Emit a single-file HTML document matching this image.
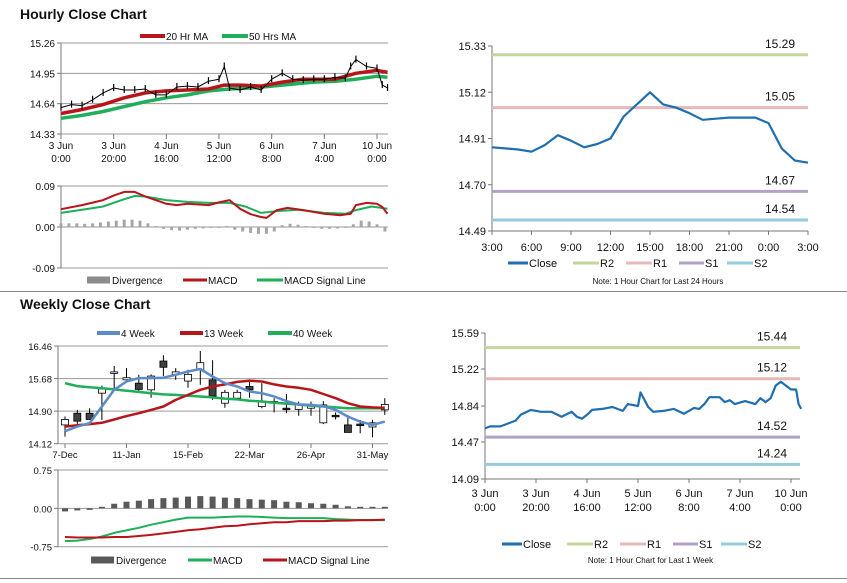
<!DOCTYPE html>
<html><head><meta charset="utf-8"><style>
html,body{margin:0;padding:0;background:#fff;}
svg{display:block;font-family:"Liberation Sans",Arial,sans-serif;}
</style></head><body>
<svg id="c" width="847" height="583" viewBox="0 0 847 583" xmlns="http://www.w3.org/2000/svg">
<text x="20" y="19" font-size="14" font-weight="bold" fill="#111">Hourly Close Chart</text>
<text x="20" y="309" font-size="14" font-weight="bold" fill="#111">Weekly Close Chart</text>
<line x1="0" y1="291.5" x2="847" y2="291.5" stroke="#888" stroke-width="1"/>
<line x1="0" y1="578.5" x2="847" y2="578.5" stroke="#888" stroke-width="1"/>
</svg>
<script>
// ---------- Hourly close (left top) ----------
const hHours=[0,4,8,12,16,20,24,28,32,36,40,44,48,52,56,60,62,64,68,72,76,80,84,88,92,96,100,104,108,110,112,116,120,122,124];
const hClose=[14.60,14.63,14.62,14.68,14.75,14.80,14.78,14.78,14.79,14.73,14.73,14.81,14.82,14.81,14.87,14.89,15.02,14.80,14.78,14.81,14.78,14.89,14.95,14.89,14.88,14.89,14.89,14.91,14.90,15.02,15.09,15.02,15.00,14.83,14.80];
const ma20Hours=[0,8,16,24,32,40,48,56,62,68,76,84,92,100,104,112,120,124];
const ma20Vals=[14.54,14.58,14.63,14.70,14.75,14.77,14.78,14.79,14.83,14.83,14.82,14.86,14.89,14.89,14.89,14.95,14.98,14.96];
const ma50Hours=[0,8,16,24,32,40,48,56,64,72,80,88,96,104,112,120,124];
const ma50Vals=[14.49,14.52,14.56,14.61,14.66,14.70,14.73,14.77,14.79,14.80,14.82,14.84,14.86,14.87,14.89,14.92,14.91];
const hYTicks=[15.26,14.95,14.64,14.33];
const hXTickHours=[0,20,40,60,80,100,120];
const hXLabels1=["3 Jun","3 Jun","4 Jun","5 Jun","6 Jun","7 Jun","10 Jun"];
const hXLabels2=["0:00","20:00","16:00","12:00","8:00","4:00","0:00"];
// hourly MACD
const hMacdHours=[0,8,16,20,24,28,32,36,40,44,48,56,60,64,68,72,76,78,82,86,92,100,106,110,112,116,120,122,124];
const hMacdVals=[0.039,0.048,0.059,0.069,0.077,0.077,0.067,0.059,0.051,0.048,0.051,0.048,0.054,0.059,0.040,0.028,0.022,0.020,0.037,0.042,0.037,0.029,0.026,0.029,0.048,0.053,0.051,0.044,0.029];
const hSigHours=[0,8,16,24,28,32,40,48,56,64,70,76,82,90,100,108,112,118,124];
const hSigVals=[0.031,0.038,0.045,0.061,0.068,0.067,0.059,0.055,0.053,0.053,0.045,0.031,0.035,0.038,0.031,0.029,0.037,0.045,0.040];
const hDivVals=[0.008,0.008,0.008,0.007,0.008,0.01,0.012,0.014,0.016,0.016,0.014,0.008,0.002,-0.004,-0.007,-0.008,-0.006,-0.004,-0.003,-0.002,-0.002,0.002,-0.006,-0.01,-0.013,-0.015,-0.015,-0.01,0.004,0.007,0.005,0.002,-0.002,-0.004,-0.004,-0.003,-0.002,0.006,0.014,0.012,0.006,-0.01];
const hMacdTicks=[0.09,0.00,-0.09];

// ---------- Hourly pivot (right top) ----------
const pLabels=["3:00","6:00","9:00","12:00","15:00","18:00","21:00","0:00","3:00"];
const pClose=[14.87,14.865,14.86,14.85,14.88,14.925,14.90,14.87,14.885,14.91,15.01,15.065,15.12,15.065,15.05,15.025,14.995,15.0,15.005,15.005,15.005,14.98,14.865,14.81,14.80];
const pLevels=[15.29,15.05,14.67,14.54];
const pYTicks=[15.33,15.12,14.91,14.70,14.49];

// ---------- Weekly candles (left bottom) ----------
const wXLabels=["7-Dec","11-Jan","15-Feb","22-Mar","26-Apr","31-May"];
const wOpen=[14.57,14.85,14.85,15.33,15.82,15.65,15.57,15.41,16.10,15.78,15.62,15.89,15.65,15.09,15.21,15.49,15.01,15.12,14.97,14.94,14.97,14.62,14.80,14.57,14.59,14.52,14.93];
const wClose=[14.70,14.66,14.70,15.43,15.84,15.70,15.42,15.74,15.95,15.84,15.78,16.06,15.26,15.35,15.35,15.41,15.14,15.13,14.96,15.05,15.06,15.05,14.78,14.39,14.58,14.62,15.06];
const wHigh=[14.77,14.93,14.97,15.51,15.98,15.93,15.77,15.78,16.24,15.93,15.89,16.34,16.12,15.41,15.41,15.66,15.57,15.21,15.31,15.13,15.13,15.14,14.87,14.81,14.69,14.69,15.21];
const wLow=[14.29,14.57,14.69,14.69,15.45,15.61,15.34,15.22,15.74,15.65,15.46,15.53,15.17,14.98,15.17,15.22,14.97,14.87,14.85,14.79,14.79,14.59,14.70,14.39,14.37,14.27,14.81];
const w4=[14.42,14.53,14.61,15.01,15.41,15.61,15.69,15.69,15.70,15.77,15.85,15.91,15.73,15.57,15.49,15.37,15.33,15.25,15.14,15.06,15.05,15.02,14.93,14.77,14.65,14.57,14.65];
const w13=[14.53,14.56,14.59,14.62,14.70,14.78,14.85,14.93,15.01,15.17,15.29,15.41,15.49,15.54,15.60,15.63,15.61,15.54,15.49,15.46,15.41,15.31,15.21,15.09,15.01,14.99,14.98];
const w40=[15.57,15.50,15.47,15.45,15.42,15.39,15.36,15.33,15.30,15.29,15.27,15.25,15.23,15.20,15.18,15.15,15.13,15.10,15.08,15.06,15.03,15.01,14.99,14.97,14.97,14.97,14.97];
const wYTicks=[16.46,15.68,14.90,14.12];
const wDiv=[-0.06,-0.04,-0.03,0.03,0.09,0.13,0.15,0.18,0.20,0.21,0.23,0.24,0.23,0.21,0.20,0.18,0.17,0.16,0.13,0.12,0.10,0.09,0.07,0.04,0.03,0.03,0.03];
const wMacd=[-0.64,-0.63,-0.60,-0.55,-0.48,-0.43,-0.38,-0.32,-0.27,-0.22,-0.18,-0.18,-0.18,-0.17,-0.16,-0.16,-0.17,-0.18,-0.19,-0.19,-0.19,-0.19,-0.21,-0.22,-0.23,-0.23,-0.23];
const wSig=[-0.56,-0.57,-0.57,-0.57,-0.56,-0.56,-0.54,-0.52,-0.49,-0.46,-0.43,-0.41,-0.38,-0.35,-0.34,-0.31,-0.29,-0.27,-0.27,-0.25,-0.25,-0.25,-0.24,-0.24,-0.23,-0.23,-0.22];
const wMacdTicks=[0.75,0.00,-0.75];

// ---------- Weekly pivot (right bottom) ----------
const rHours=[0,2,6,8,12,14,18,22,26,30,34,36,38,40,42,46,50,54,56,60,61,64,66,70,74,78,82,84,86,88,92,94,96,98,102,106,108,110,112,114,116,118,120,122,123,124];
const rClose=[14.61,14.63,14.63,14.65,14.69,14.75,14.80,14.78,14.78,14.73,14.78,14.73,14.71,14.75,14.80,14.81,14.83,14.79,14.86,14.84,14.98,14.83,14.78,14.79,14.81,14.76,14.82,14.81,14.86,14.93,14.93,14.88,14.90,14.86,14.89,14.86,14.92,14.88,14.92,15.05,15.09,15.05,15.01,15.01,14.86,14.81];
const rLevels=[15.44,15.12,14.52,14.24];
const rYTicks=[15.59,15.22,14.84,14.47,14.09];

const lvlNames=["r2","r1","s1","s2"];
const lvlColors=["#c3d69b","#e6b9b8","#b3a2c7","#93cddd"];

const svg=document.getElementById('c');
const NS="http://www.w3.org/2000/svg";
function mk(tag,attrs,parent){const e=document.createElementNS(NS,tag);for(const k in attrs)e.setAttribute(k,attrs[k]);(parent||svg).appendChild(e);return e;}
function txt(x,y,s,size,anchor,parent){const t=mk('text',{x:x,y:y,'font-size':size,'text-anchor':anchor||'start',fill:'#111'},parent);t.textContent=s;return t;}
function lin(d0,d1,r0,r1){return v=>r0+(v-d0)*(r1-r0)/(d1-d0);}
function poly(xs,ys,color,w,g){return mk('polyline',{points:xs.map((x,i)=>x.toFixed(1)+','+ys[i].toFixed(1)).join(' '),fill:'none',stroke:color,'stroke-width':w,'stroke-linejoin':'round'},g);}
function grp(name){const g=mk('g',{});return g;}
function legendLine(g,x1,x2,y,color,w,label,name,fs){const l=mk('line',{x1:x1,y1:y,x2:x2,y2:y,stroke:color,'stroke-width':w},g);
 const t=txt(x2+1,y+4,label,fs||10,'start',g);
 const e=mk('g',{},g);e.appendChild(l);e.appendChild(t);
 
 }
function legendBox(g,x1,x2,y,color,label,name){const r=mk('rect',{x:x1,y:y-3.5,width:x2-x1,height:7,fill:color},g);
 const t=txt(x2+2,y+4,label,10,'start',g);
 const e=mk('g',{},g);e.appendChild(r);e.appendChild(t);
 
 }
function gridAndY(g,ticks,ys,x0,x1,fmt,size){ticks.forEach(v=>{const y=ys(v);
 mk('line',{x1:x0,y1:y,x2:x1,y2:y,stroke:'#9a9a9a','stroke-width':1},g);
 mk('line',{x1:x0-4,y1:y,x2:x0,y2:y,stroke:'#777','stroke-width':1},g);
 txt(x0-6,y+4,v.toFixed(2),size||10,'end',g);});}

// ===== Hourly left =====
(function(){
 const g=grp('hourly-close-chart');
 const xs=lin(0,120,61,377), ys=lin(15.26,14.33,43,134);
 gridAndY(g,hYTicks,ys,61,388);
 mk('line',{x1:61,y1:43,x2:61,y2:134,stroke:'#777'},g);
 hXTickHours.forEach((h,i)=>{const x=xs(h);mk('line',{x1:x,y1:134,x2:x,y2:139,stroke:'#777'},g);
  txt(x,149,hXLabels1[i],10,'middle',g);txt(x,162,hXLabels2[i],10,'middle',g);});
 poly(ma50Hours.map(xs),ma50Vals.map(ys),'#1fae5a',3.5,g);
 poly(ma20Hours.map(xs),ma20Vals.map(ys),'#b8151b',3.5,g);
 const pl=poly(hHours.map(xs),hClose.map(ys),'#000',1,g);
 hHours.forEach((h,i)=>{const x=xs(h),y=ys(hClose[i]);
  const c=mk('line',{x1:x,y1:y-4,x2:x,y2:y+3,stroke:'#000','stroke-width':1.2},g);
  });
 legendLine(g,140,165,36,'#b8151b',4,'20 Hr MA','legend-20hr-ma');
 legendLine(g,222,248,36,'#1fae5a',4,'50 Hrs MA','legend-50hr-ma');
 // MACD
 const m=grp('hourly-macd-chart');
 const my=lin(0.09,-0.09,186,268);
 gridAndY(m,hMacdTicks,my,61,388);
 mk('line',{x1:61,y1:186,x2:61,y2:268,stroke:'#777'},m);
 hDivVals.forEach((v,i)=>{const x=xs(i*3),y0=my(0),y=my(v);
  const r=mk('rect',{x:x-1.5,y:Math.min(y0,y),width:3,height:Math.max(0.8,Math.abs(y-y0)),fill:'#a6a6a6'},m);
  });
 poly(hSigHours.map(xs),hSigVals.map(my),'#1fae5a',2,m);
 poly(hMacdHours.map(xs),hMacdVals.map(my),'#b8151b',2,m);
 legendBox(m,87,110,280,'#8c8c8c','Divergence','legend-divergence');
 legendLine(m,183,207,280,'#b8151b',3,'MACD','legend-macd');
 legendLine(m,257,283,280,'#1fae5a',3,'MACD Signal Line','legend-signal');
})();

// ===== pivot chart helper =====
function pivotChart(name,x0,x1,yTop,yBot,dTop,dBot,yTicks,levels,xsFn,xVals,closeVals,drawX,legY,noteY,note){
 const g=grp(name);
 const ys=lin(dTop,dBot,yTop,yBot);
 yTicks.forEach(v=>{const y=ys(v);mk('line',{x1:x0-4,y1:y,x2:x0,y2:y,stroke:'#777'},g);txt(x0-6,y+4,v.toFixed(2),11,'end',g);});
 mk('line',{x1:x0,y1:yTop,x2:x0,y2:yBot,stroke:'#777'},g);
 mk('line',{x1:x0,y1:yBot,x2:x1,y2:yBot,stroke:'#777'},g);
 levels.forEach((v,i)=>{const y=ys(v);
  const l=mk('line',{x1:x0,y1:y,x2:x1,y2:y,stroke:lvlColors[i],'stroke-width':3},g);
  
  txt(x1-13,y-7,v.toFixed(2),12,'end',g);});
 drawX(g);
 poly(xVals.map(xsFn),closeVals.map(ys),'#1f6eb0',2.2,g);
 const lx=legY[0];
 legendLine(g,lx,lx+20,legY[1],'#1f6eb0',3,'Close','legend-close',11);
 legendLine(g,lx+65,lx+91,legY[1],'#c3d69b',3,'R2','legend-r2',11);
 legendLine(g,lx+118,lx+144,legY[1],'#e6b9b8',3,'R1','legend-r1',11);
 legendLine(g,lx+171,lx+196,legY[1],'#b3a2c7',3,'S1','legend-s1',11);
 legendLine(g,lx+219,lx+245,legY[1],'#93cddd',3,'S2','legend-s2',11);
 const n=txt((x0+x1)/2+8,noteY,note,8,'middle',g);
}
// top right
(function(){
 const xs=lin(0,24,492,808);
 pivotChart('hourly-pivot-chart',492,808,46,231,15.33,14.49,pYTicks,pLevels,xs,pClose.map((_,i)=>i),pClose,
  g=>{pLabels.forEach((s,i)=>{const x=xs(i*3);mk('line',{x1:x,y1:231,x2:x,y2:235,stroke:'#777'},g);txt(x,251,s,11,'middle',g);});},
  [508,263],284,'Note: 1 Hour Chart for Last 24 Hours');
})();
// bottom right
(function(){
 const xs=lin(0,120,485,791);
 pivotChart('weekly-pivot-chart',485,800,333,479,15.59,14.09,rYTicks,rLevels,xs,rHours,rClose,
  g=>{hXTickHours.forEach((h,i)=>{const x=xs(h);mk('line',{x1:x,y1:479,x2:x,y2:483,stroke:'#777'},g);
   txt(x,497,hXLabels1[i],11,'middle',g);txt(x,511,hXLabels2[i],11,'middle',g);});},
  [502,544],563,'Note: 1 Hour Chart for Last 1 Week');
})();

// ===== Weekly left =====
(function(){
 const g=grp('weekly-close-chart');
 const xs=lin(0,1,65,77.3), ys=lin(16.46,14.12,346,443.7);
 gridAndY(g,wYTicks,ys,58,388,null,9.5);
 mk('line',{x1:58,y1:346,x2:58,y2:443.7,stroke:'#777'},g);
 wXLabels.forEach((s,i)=>{const x=xs(i*5);mk('line',{x1:x,y1:443.7,x2:x,y2:448,stroke:'#777'},g);txt(x,458,s,9.5,'middle',g);});
 wOpen.forEach((o,i)=>{const x=xs(i),c=wClose[i];
  const e=mk('g',{},g);
  
  
  mk('line',{x1:x,y1:ys(wHigh[i]),x2:x,y2:ys(wLow[i]),stroke:'#000','stroke-width':1},e);
  const t=ys(Math.max(o,c)),b=ys(Math.min(o,c));
  mk('rect',{x:x-3.5,y:t,width:7,height:Math.max(1.5,b-t),fill:c>=o?'#fff':'#404040',stroke:'#000','stroke-width':0.8},e);});
 poly(w40.map((_,i)=>xs(i)),w40.map(ys),'#1fae5a',2.5,g);
 poly(w13.map((_,i)=>xs(i)),w13.map(ys),'#b8151b',2.5,g);
 poly(w4.map((_,i)=>xs(i)),w4.map(ys),'#5b8bc9',2.5,g);
 legendLine(g,97,120,333,'#5b8bc9',4,'4 Week','legend-4-week');
 legendLine(g,180,203,333,'#b8151b',4,'13 Week','legend-13-week');
 legendLine(g,268,292,333,'#1fae5a',4,'40 Week','legend-40-week');
 const m=grp('weekly-macd-chart');
 const my=lin(0.75,-0.75,470,546.7);
 gridAndY(m,wMacdTicks,my,58,388,null,9.5);
 mk('line',{x1:58,y1:470,x2:58,y2:546.7,stroke:'#777'},m);
 wDiv.forEach((v,i)=>{const x=xs(i),y0=my(0),y=my(v);
  const r=mk('rect',{x:x-3,y:Math.min(y0,y),width:6,height:Math.max(0.8,Math.abs(y-y0)),fill:'#595959'},m);
  });
 poly(wMacd.map((_,i)=>xs(i)),wMacd.map(my),'#1fae5a',2,m);
 poly(wSig.map((_,i)=>xs(i)),wSig.map(my),'#b8151b',2,m);
 legendBox(m,91,114,560,'#595959','Divergence','legend-weekly-divergence');
 legendLine(m,188,212,560,'#1fae5a',3,'MACD','legend-weekly-macd');
 legendLine(m,263,287,560,'#b8151b',3,'MACD Signal Line','legend-weekly-signal');
})();
</script>
</body></html>
